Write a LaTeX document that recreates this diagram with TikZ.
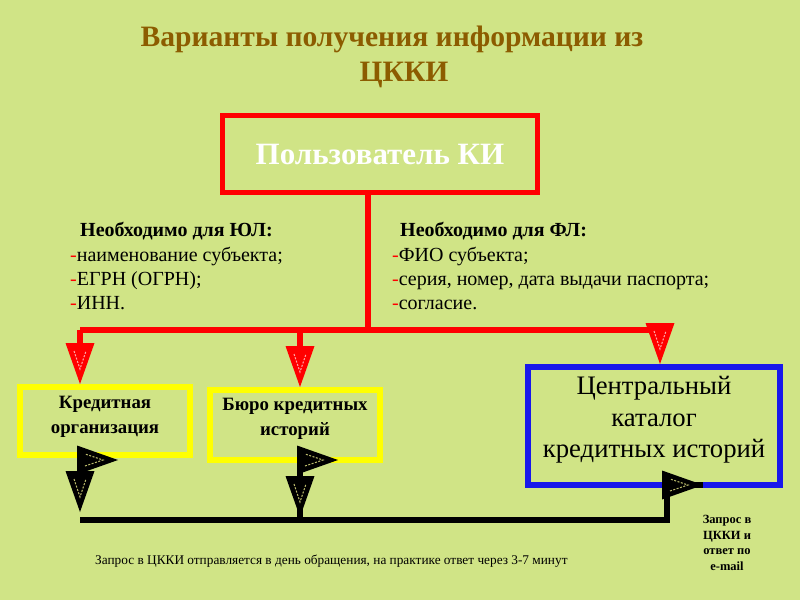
\documentclass[tikz,border=0pt]{standalone}
\usepackage{fontspec}
\setmainfont{Liberation Serif}
\definecolor{bgc}{RGB}{208,228,134}
\definecolor{titlec}{RGB}{140,92,0}
\definecolor{boxred}{RGB}{255,0,0}
\definecolor{boxyel}{RGB}{255,255,0}
\definecolor{boxblue}{RGB}{24,24,235}
\definecolor{vred}{RGB}{255,170,170}
\definecolor{vblk}{RGB}{190,190,110}
\begin{document}
\begin{tikzpicture}[x=1pt,y=-1pt,
  titletxt/.style={font=\fontsize{29.6}{36}\selectfont\bfseries, text=titlec, anchor=base, inner sep=0},
  userbox/.style={draw=boxred, line width=5pt, minimum width=315pt, minimum height=77pt, inner sep=0,
     font=\fontsize{31}{36}\selectfont\bfseries, text=white},
  yelbox/.style={draw=boxyel, line width=6pt, minimum width=170pt, inner sep=0},
  bluebox/.style={draw=boxblue, line width=6pt, minimum width=252pt, minimum height=118pt, inner sep=0},
  listtxt/.style={font=\fontsize{20}{24}\selectfont, anchor=base west, inner sep=0},
  headtxt/.style={font=\fontsize{20}{24}\selectfont\bfseries, anchor=base west, inner sep=0},
  yeltxt/.style={font=\fontsize{18.8}{25}\selectfont\bfseries, align=center, inner sep=0},
  bluetxt/.style={font=\fontsize{26.7}{31.5}\selectfont, align=center, inner sep=0},
  redline/.style={draw=boxred, line width=6pt},
  blackline/.style={draw=black, line width=6pt},
  pics/tri/.style 2 args={code={
     \fill[#1] (-14.5,-41) -- (14.5,-41) -- (0,0) -- cycle;
     \draw[#2, line width=1pt, dash pattern=on 2pt off 1.5pt] (-6,-33) -- (0,-15) -- (6,-33);
  }}
]
\fill[bgc] (0,0) rectangle (800,600);
\useasboundingbox (0,0) rectangle (800,600);

% title
\node[titletxt] (t1) at (392,46) {Варианты получения информации из};
\node[titletxt] (t2) at (404,81) {ЦККИ};

% user box
\node[userbox] (user) at (380,154) {Пользователь КИ};

% requirement lists
\node[headtxt] (hl) at (80,236) {Необходимо для ЮЛ:};
\node[listtxt] (l1) at (70,261) {{\color{boxred}-}наименование субъекта;};
\node[listtxt] (l2) at (70,285) {{\color{boxred}-}ЕГРН (ОГРН);};
\node[listtxt] (l3) at (70,309) {{\color{boxred}-}ИНН.};
\node[headtxt] (hr) at (400,236) {Необходимо для ФЛ:};
\node[listtxt] (r1t) at (392,261) {{\color{boxred}-}ФИО субъекта;};
\node[listtxt] (r2t) at (392,285) {{\color{boxred}-}серия, номер, дата выдачи паспорта;};
\node[listtxt] (r3t) at (392,309) {{\color{boxred}-}согласие.};

% target boxes
\node[yelbox, minimum height=68pt] (k1) at (105,421) {};
\node[yeltxt] (k1t) at (105,417) {Кредитная\\организация};
\node[yelbox, minimum height=70pt] (k2) at (295,425) {};
\node[yeltxt] (k2t) at (295,419) {Бюро кредитных\\историй};
\node[bluebox] (ckki) at (654,426) {};
\node[bluetxt] (ckkit) at (654,420) {Центральный\\каталог\\кредитных историй};

% red distribution lines
\coordinate (j) at (368,330);
\coordinate (r1) at (80,330);
\coordinate (r2) at (300,330);
\coordinate (r3) at (660,330);
\draw[redline] (user.south -| j) -- (j);
\draw[redline] (r1) -- (r3);
\draw[redline] (r1) -- (r1 |- 0,350);
\draw[redline] (r2) -- (r2 |- 0,350);
\pic at (r1 |- k1.north) {tri={boxred}{vred}};
\pic at (r2 |- k2.north) {tri={boxred}{vred}};
\pic at (r3 |- ckki.north) {tri={boxred}{vred}};

% black return lines
\coordinate (b1) at (80,520);
\coordinate (b2) at (300,520);
\coordinate (b3) at (667,520);
\coordinate (b3u) at (667,485);
\coordinate (c1) at (80,460);
\coordinate (c2) at (300,460);
\coordinate (ctip) at (703,485);
\draw[blackline] (b1) -- (b3) -- (b3u) -- (ctip |- b3u);
\draw[blackline] (b2) -- (c2);
\draw[blackline] (c1) -- (80,490);
\pic at (80,512) {tri={black}{vblk}};
\pic at (300,517) {tri={black}{vblk}};
\pic[rotate=90] at (118,460) {tri={black}{vblk}};
\pic[rotate=90] at (338,460) {tri={black}{vblk}};
\pic[rotate=90] at (ctip) {tri={black}{vblk}};

% notes
\node[font=\fontsize{13.3}{15}\selectfont, anchor=base west, inner sep=0] (note) at (95,564)
  {Запрос в ЦККИ отправляется в день обращения, на практике ответ через 3-7 минут};
\node[font=\fontsize{12.5}{15.5}\selectfont\bfseries, align=center, inner sep=0] (note2) at (727,543)
  {Запрос в\\ЦККИ и\\ответ по\\e-mail};
\end{tikzpicture}
\end{document}
